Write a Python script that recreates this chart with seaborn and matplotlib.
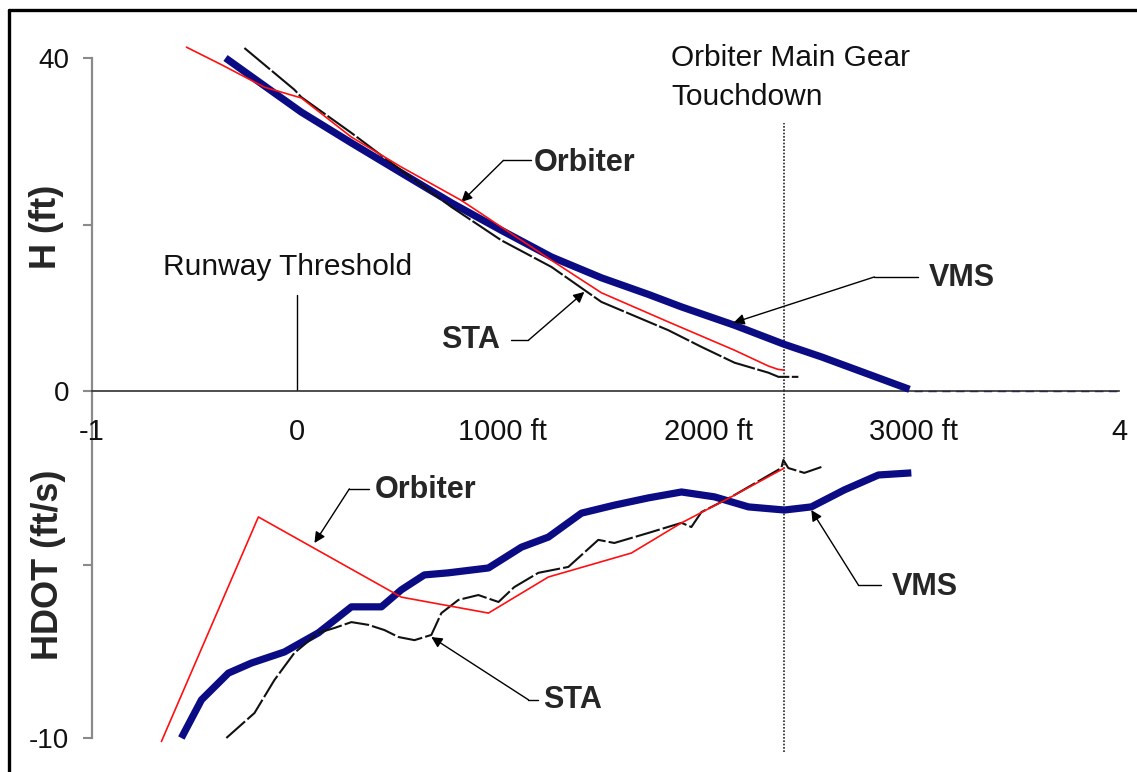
import numpy as np
import pandas as pd
import matplotlib
matplotlib.use("Agg")
import matplotlib.pyplot as plt
from matplotlib.lines import Line2D
import seaborn as sns

# ---------------- data (distance in ft) ----------------
# Top panel: altitude H (ft)
vms_h_x = [-350, -112, 19, 263, 506, 750, 993, 1237, 1480, 1709, 1870, 2128, 2371, 2551, 2760, 2980]
vms_h_y = [40.0, 35.8, 33.5, 29.8, 26.2, 22.6, 19.3, 16.1, 13.6, 11.6, 10.1, 7.9, 5.6, 4.1, 2.2, 0.2]

orb_h_x = [-540, -370, -161, 19, 263, 506, 798, 993, 1237, 1480, 1806, 1967, 2128, 2293, 2340, 2371]
orb_h_y = [41.3, 39.2, 36.5, 35.2, 30.5, 26.9, 22.9, 19.7, 15.7, 11.8, 8.3, 6.6, 4.9, 3.0, 2.6, 2.5]

sta_h_x = [-258, -15, 19, 263, 506, 750, 993, 1237, 1480, 1806, 1967, 2128, 2293, 2342, 2439]
sta_h_y = [41.2, 36.2, 35.3, 31.0, 26.5, 22.1, 18.1, 14.9, 10.7, 7.3, 5.3, 3.4, 2.2, 1.7, 1.7]

vms_ground_x = [3000, 4000]
vms_ground_y = [0.0, 0.0]

# Bottom panel: sink rate HDOT (ft/s)
orb_d_x = [-662, -190, 506, 930, 1222, 1626, 1870, 2113, 2371]
orb_d_y = [-10.1, -3.63, -5.94, -6.40, -5.36, -4.67, -3.80, -3.05, -2.22]

vms_d_x = [-565, -467, -336, -224, -63, 102, 263, 409, 506, 618, 735, 930, 1091,
           1222, 1383, 1543, 1709, 1870, 2030, 2196, 2371, 2502, 2663, 2829, 2989]
vms_d_y = [-10.0, -8.90, -8.13, -7.84, -7.52, -6.97, -6.22, -6.22, -5.73, -5.30, -5.24,
           -5.10, -4.50, -4.21, -3.52, -3.29, -3.08, -2.91, -3.05, -3.34, -3.43, -3.34,
           -2.85, -2.42, -2.36]

sta_d_x = [-346, -209, -112, -15, 102, 180, 263, 346, 424, 492, 570, 652, 701, 784, 881,
           979, 1056, 1173, 1319, 1465, 1543, 1709, 1870, 1918, 1967, 2113, 2356, 2366,
           2390, 2468, 2551]
sta_d_y = [-10.0, -9.28, -8.33, -7.55, -6.97, -6.83, -6.66, -6.74, -6.89, -7.09, -7.18,
           -7.03, -6.40, -6.02, -5.88, -6.08, -5.65, -5.24, -5.07, -4.29, -4.38, -4.09,
           -3.80, -3.92, -3.49, -3.05, -2.22, -1.99, -2.22, -2.36, -2.19]

x_ticks = [-1000, -500, 0, 500, 1000, 1500, 2000, 2500, 3000, 3500, 4000]
x_ticklabels = ["-1", "", "0", "", "1000 ft", "", "2000 ft", "", "3000 ft", "", "4"]
h_ticks = [0, 20, 40]
h_ticklabels = ["0", "", "40"]
d_ticks = [-10, -5]
d_ticklabels = ["-10", ""]

runway_x = 0
touchdown_x = 2371

# ---------------- style ----------------
sns.set_style("white")
plt.rcParams["font.family"] = ["Liberation Sans", "DejaVu Sans"]

W, H = 1137, 772
fig = plt.figure(figsize=(W / 100, H / 100), dpi=100)

def fx(px):
    return px / W

def fy(py):
    return 1 - py / H

left = fx(92)
width = fx(1119) - fx(92)
ax_top = fig.add_axes([left, fy(391), width, fy(30) - fy(391)])
ax_bot = fig.add_axes([left, fy(760), width, fy(391) - fy(760)])
for a in (ax_top, ax_bot):
    a.patch.set_alpha(0)
    a.set_xlim(-1000, 4000)
ax_top.set_ylim(0, (391 - 30) / 8.325)
ax_bot.set_ylim(-(760 - 391) / 34.7, 0)
ax_bot.set_zorder(0)
ax_top.set_zorder(1)

NAVY = "#0b0b84"
RED = "#ff1010"

def draw(ax, xs, ys, **kw):
    df = pd.DataFrame({"x": xs, "y": ys})
    sns.lineplot(data=df, x="x", y="y", ax=ax, sort=False, estimator=None,
                 clip_on=False, **kw)

# top curves
draw(ax_top, vms_ground_x, vms_ground_y, color=NAVY, lw=1.0, dashes=(6, 4), zorder=1)
draw(ax_top, vms_h_x, vms_h_y, color=NAVY, lw=5.2, zorder=3, solid_capstyle="butt",
     solid_joinstyle="round")
draw(ax_top, sta_h_x, sta_h_y, color="#111111", lw=1.5, dashes=(16, 1.2), zorder=4)
draw(ax_top, orb_h_x, orb_h_y, color=RED, lw=1.2, zorder=5)

# bottom curves
draw(ax_bot, vms_d_x, vms_d_y, color=NAVY, lw=5.2, zorder=3, solid_capstyle="butt",
     solid_joinstyle="round")
draw(ax_bot, sta_d_x, sta_d_y, color="#111111", lw=1.5, dashes=(12, 1.5), zorder=4)
draw(ax_bot, orb_d_x, orb_d_y, color=RED, lw=1.2, zorder=5)

# reference lines
ax_top.plot([runway_x, runway_x], [0, 11.5], color="black", lw=1.0, zorder=2)
ax_top.plot([touchdown_x, touchdown_x], [0, (391 - 123) / 8.325], color="#222222",
            lw=1.2, ls=(0, (1, 1)), zorder=2)
ax_bot.plot([touchdown_x, touchdown_x], [-(752 - 391) / 34.7, 0], color="#222222",
            lw=1.2, ls=(0, (1, 1)), zorder=2, clip_on=False)

# axes styling
for a in (ax_top, ax_bot):
    for s in ("top", "right"):
        a.spines[s].set_visible(False)
    a.spines["left"].set_color("#8a8a8a")
    a.spines["left"].set_linewidth(1.6)
    a.set_xlabel("")
    a.set_ylabel("")
ax_bot.spines["bottom"].set_visible(False)
ax_top.spines["bottom"].set_color("#303030")
ax_top.spines["bottom"].set_linewidth(1.2)
ax_top.spines["left"].set_bounds(0, 40)
ax_bot.spines["left"].set_bounds(-10, 0)

ax_top.set_xticks(x_ticks, labels=x_ticklabels)
ax_top.tick_params(axis="x", direction="out", length=7.5, width=1.2, color="#303030",
                   pad=12, labelsize=21, labelcolor="#111111")
ax_bot.set_xticks([])
ax_top.set_yticks(h_ticks, labels=h_ticklabels)
ax_bot.set_yticks(d_ticks, labels=d_ticklabels)
for a in (ax_top, ax_bot):
    a.tick_params(axis="y", direction="out", length=6.5, width=1.5, color="#8a8a8a",
                  pad=10, labelsize=20, labelcolor="#111111", left=True)

# axis titles
fig.text(fx(46), fy(227), "H (ft)", rotation=90, ha="center", va="center",
         fontsize=26, fontweight="bold")
fig.text(fx(48), fy(565), "HDOT (ft/s)", rotation=90, ha="center", va="center",
         fontsize=26, fontweight="bold")

# plain annotations
ax_top.text(-652, 14.9, "Runway Threshold", fontsize=21.5, ha="left", va="center",
            color="#111111")
ax_top.text(1821, 40.0, "Orbiter Main Gear", fontsize=21.5, ha="left", va="center",
            color="#111111", clip_on=False)
ax_top.text(1821, 35.3, "Touchdown", fontsize=21.5, ha="left", va="center",
            color="#111111", clip_on=False)

def callout(ax, label, tx, ty, hx0, hx1, hy, tip):
    ax.text(tx, ty, label, fontsize=22, fontweight="bold", ha="left", va="center")
    ax.plot([hx0, hx1], [hy, hy], color="black", lw=1.0)
    ax.annotate("", xy=tip, xytext=(hx0, hy),
                arrowprops=dict(arrowstyle="-|>", color="black", lw=1.0,
                                mutation_scale=16, shrinkA=0, shrinkB=0))

callout(ax_top, "Orbiter", 1149, 27.4, 1003, 1139, 27.7, (798, 22.7))
callout(ax_top, "STA", 701, 6.1, 1125, 1042, 6.1, (1397, 11.9))
callout(ax_top, "VMS", 3072, 13.6, 2809, 3023, 13.7, (2123, 8.2))
callout(ax_bot, "Orbiter", 375, -2.85, 253, 351, -2.82, (83, -4.38))
callout(ax_bot, "STA", 1198, -8.9, 1125, 1173, -8.9, (652, -7.09))
callout(ax_bot, "VMS", 2892, -5.65, 2731, 2843, -5.59, (2502, -3.43))

# outer frame (partially visible)
fig.add_artist(Line2D([fx(9), fx(9)], [0, fy(10)], transform=fig.transFigure,
                      color="black", lw=2.4))
fig.add_artist(Line2D([fx(9), 1], [fy(10), fy(10)], transform=fig.transFigure,
                      color="black", lw=2.4))

fig.savefig("out.png", dpi=100)
